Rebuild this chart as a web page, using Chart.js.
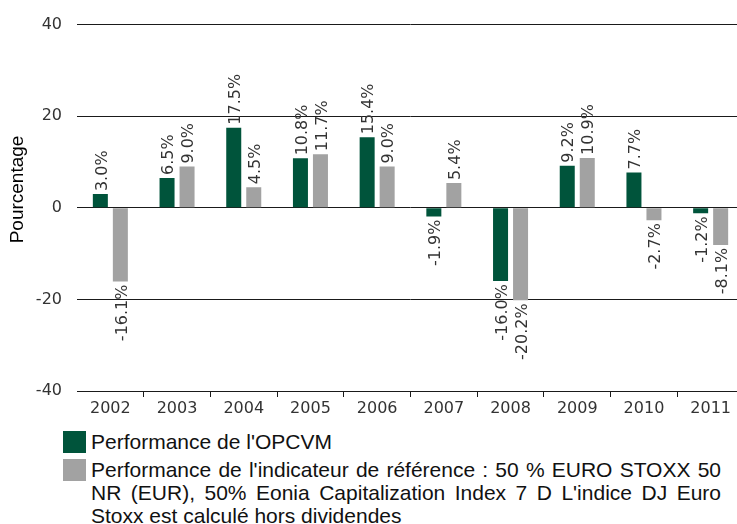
<!DOCTYPE html>
<html>
<head>
<meta charset="utf-8">
<script src="https://cdn.jsdelivr.net/npm/chart.js@4"></script>
<style>
    body { margin: 0; background: #fff; overflow: hidden; }
    #wrap { position: relative; width: 744px; height: 524px; }
    #legend { position: absolute; left: 63px; top: 430px; width: 660px;
              font-family: "Liberation Sans", Arial, sans-serif; font-size: 21px;
              line-height: 23px; color: #111; }
    .item { display: flex; align-items: flex-start; margin-bottom: 5px; }
    .box { flex: none; width: 23px; height: 22px; margin-right: 5px; margin-top: 1px; }
    .txt { text-align: justify; width: 630px; }
</style>
</head>
<body>
<div id="wrap">
    <canvas id="chart" width="744" height="420"></canvas>
    <div id="legend"></div>
</div>
<script>
// Values, percent per year
let years = ["2002", "2003", "2004", "2005", "2006", "2007", "2008", "2009", "2010", "2011"]
let fund_perf = [3.0, 6.5, 17.5, 10.8, 15.4, -1.9, -16.0, 9.2, 7.7, -1.2]
let index_perf = [-16.1, 9.0, 4.5, 11.7, 9.0, 5.4, -20.2, 10.9, -2.7, -8.1]
let y_ticks = [-40, -20, 0, 20, 40]
let y_title = "Pourcentage"

let fund_name = "Performance de l'OPCVM"
let index_name = "Performance de l'indicateur de référence : 50 % EURO STOXX 50 NR (EUR), " +
    "50% Eonia Capitalization Index 7 D L'indice DJ Euro Stoxx est calculé hors dividendes"

let green = "#00543b"
let grey = "#a2a2a2"
let ink = "#333"
let line_ink = "#1a1a1a"
let tick_font = { family: "DejaVu Sans", size: 16 }

// Rotated value labels, above positive bars and below negative ones
let bar_labels = {
    id: "bar_labels",
    afterDatasetsDraw(chart) {
        let ctx = chart.ctx
        ctx.save()
        ctx.font = "16px 'DejaVu Sans'"
        ctx.fillStyle = ink
        ctx.textBaseline = "middle"
        chart.data.datasets.forEach((ds, i) => {
            chart.getDatasetMeta(i).data.forEach((bar, j) => {
                let v = ds.data[j]
                ctx.save()
                ctx.translate(bar.x + 2, v >= 0 ? bar.y - 3 : bar.y + 3)
                ctx.rotate(-Math.PI / 2)
                ctx.textAlign = v >= 0 ? "left" : "right"
                ctx.fillText(v.toFixed(1) + "%", 0, 0)
                ctx.restore()
            })
        })
        ctx.restore()
    }
}

// The y title sits a bit above the middle of the plot in the original, so draw it by hand
let y_title_plugin = {
    id: "y_title",
    afterDraw(chart) {
        let ctx = chart.ctx
        ctx.save()
        ctx.font = "19px 'Liberation Sans'"
        ctx.fillStyle = "#000"
        ctx.textAlign = "center"
        ctx.textBaseline = "middle"
        ctx.translate(18, chart.scales.y.getPixelForValue(4))
        ctx.rotate(-Math.PI / 2)
        ctx.fillText(y_title, 0, 0)
        ctx.restore()
    }
}

let chart = new Chart(document.getElementById("chart"), {
    type: "bar",
    data: {
        labels: years,
        datasets: [
            { label: fund_name, data: fund_perf, backgroundColor: green },
            { label: index_name, data: index_perf, backgroundColor: grey }
        ]
    },
    plugins: [bar_labels, y_title_plugin],
    options: {
        responsive: false,
        animation: false,
        categoryPercentage: 0.6,
        barPercentage: 0.75,
        layout: { padding: { top: 19, right: 0, bottom: 0, left: 0 } },
        plugins: {
            legend: { display: false },
            tooltip: { enabled: false }
        },
        scales: {
            x: {
                grid: {
                    offset: true,
                    drawOnChartArea: false,
                    tickLength: 6,
                    tickColor: (c) => c.index === 0 ? "rgba(0,0,0,0)" : line_ink,
                },
                border: { display: false },
                ticks: { color: ink, font: tick_font, padding: 2, maxRotation: 0 },
                afterFit: (s) => { s.height = 29 }
            },
            y: {
                min: -40,
                max: 40,
                afterBuildTicks: (s) => { s.ticks = y_ticks.map(v => ({ value: v })) },
                grid: { color: line_ink, lineWidth: 1, drawTicks: false },
                border: { display: false },
                ticks: { color: ink, font: tick_font, padding: 15 },
                afterFit: (s) => { s.width = 77 }
            }
        }
    }
})

// HTML legend built from the chart's datasets so the long label can wrap
let legend = document.getElementById("legend")
for (let ds of chart.data.datasets) {
    let item = document.createElement("div")
    item.className = "item"
    let box = document.createElement("span")
    box.className = "box"
    box.style.background = ds.backgroundColor
    let txt = document.createElement("span")
    txt.className = "txt"
    txt.textContent = ds.label
    item.appendChild(box)
    item.appendChild(txt)
    legend.appendChild(item)
}
</script>
</body>
</html>
